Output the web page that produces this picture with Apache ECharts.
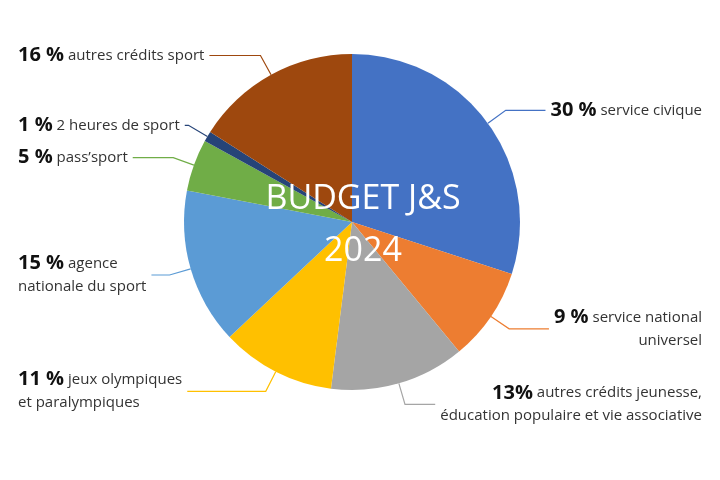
<!DOCTYPE html>
<html><head><meta charset="utf-8">
<script src="https://cdn.jsdelivr.net/npm/echarts@6/dist/echarts.min.js"></script>
<style>html,body{margin:0;background:#fff}#c{width:720px;height:480px}</style>
</head><body><div id="c"></div>
<script>
const names = ['service civique', 'service national\nuniversel', 'autres crédits jeunesse,\néducation populaire et vie associative',
  'jeux olympiques\net paralympiques', 'agence\nnationale du sport', 'pass’sport', '2 heures de sport', 'autres crédits sport'];
const values = [30, 9, 13, 11, 15, 5, 1, 16];
const pctLabels = ['30 %', '9 %', '13%', '11 %', '15 %', '5 %', '1 %', '16 %'];
const colors = ['#4472C4', '#ED7D31', '#A5A5A5', '#FFC000', '#5B9BD5', '#70AD47', '#264478', '#9E480E'];

const chart = echarts.init(document.getElementById('c'));
chart.setOption({
  animation: false,
  title: {
    text: 'BUDGET J&S\n2024', left: 358, top: 168, textAlign: 'center',
    textStyle: { color: '#fff', fontSize: 34, fontWeight: 'normal', lineHeight: 52, fontFamily: '"Open Sans", sans-serif' }
  },
  series: [{
    type: 'pie',
    center: [352, 222],
    radius: 168,
    startAngle: 90,
    clockwise: true,
    z: 1,
    label: {
      show: true, position: 'outside', color: '#333', align: 'left',
      alignTo: 'edge', edgeDistance: 18,
      fontFamily: '"Open Sans", sans-serif', fontSize: 15, lineHeight: 23,
      formatter: p => '{b|' + pctLabels[p.dataIndex] + '} ' + p.name,
      rich: { b: { fontWeight: 'bold', fontSize: 20, color: '#111', fontFamily: '"Open Sans", sans-serif' } }
    },
    labelLine: { show: true, length: 22, length2: 0, lineStyle: { width: 1.2 } },
    data: values.map((v, i) => ({ value: v, name: names[i], itemStyle: { color: colors[i] }, labelLine: { lineStyle: { color: colors[i] } } }))
  }]
});
</script></body></html>
